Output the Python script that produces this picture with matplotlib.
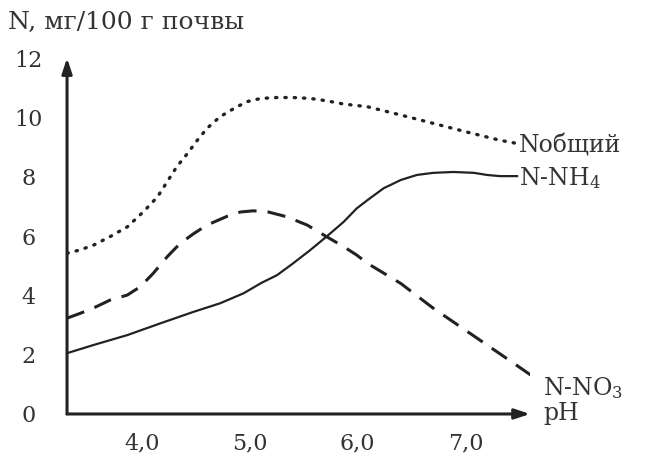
import matplotlib.pyplot as plt

# значения (pH -> N, мг/100 г почвы)
ph_total = [3.30, 3.42, 3.55, 3.70, 3.86, 4.01, 4.14, 4.23, 4.32, 4.42, 4.51, 4.60,
            4.72, 4.85, 4.97, 5.10, 5.25, 5.40, 5.56, 5.71, 5.87, 6.09, 6.40, 6.70,
            7.01, 7.32, 7.48]
n_total = [5.42, 5.53, 5.70, 5.98, 6.31, 6.82, 7.32, 7.83, 8.34, 8.79, 9.23, 9.63,
           10.02, 10.30, 10.53, 10.64, 10.67, 10.67, 10.64, 10.56, 10.45, 10.36, 10.08, 9.80,
           9.51, 9.23, 9.12]

ph_no3 = [3.30, 3.42, 3.55, 3.70, 3.86, 3.98, 4.10, 4.23, 4.35, 4.48, 4.60, 4.79,
          4.91, 5.03, 5.16, 5.34, 5.53, 5.71, 5.87, 5.99, 6.09, 6.40, 6.70, 7.01,
          7.32, 7.62]
n_no3 = [3.23, 3.39, 3.58, 3.84, 4.01, 4.29, 4.74, 5.30, 5.75, 6.09, 6.37, 6.67,
         6.81, 6.85, 6.82, 6.65, 6.37, 5.98, 5.64, 5.36, 5.08, 4.40, 3.57, 2.80,
         2.03, 1.28]

ph_nh4 = [3.30, 3.55, 3.86, 4.17, 4.48, 4.72, 4.94, 5.10, 5.25, 5.40, 5.56, 5.71,
          5.87, 5.99, 6.09, 6.24, 6.40, 6.55, 6.70, 6.89, 7.08, 7.20, 7.32, 7.48]
n_nh4 = [2.05, 2.33, 2.66, 3.06, 3.45, 3.73, 4.07, 4.41, 4.68, 5.08, 5.53, 5.98,
         6.48, 6.93, 7.21, 7.61, 7.89, 8.06, 8.13, 8.16, 8.13, 8.06, 8.02, 8.02]

x_ticks = [4.0, 5.0, 6.0, 7.0]
x_labels = ["4,0", "5,0", "6,0", "7,0"]
y_ticks = [0, 2, 4, 6, 8, 10, 12]

plt.rcParams["font.family"] = ["DejaVu Serif"]
plt.rcParams["mathtext.fontset"] = "dejavuserif"

ink = "#222222"
txt = "#333333"

fig = plt.figure(figsize=(6.47, 4.61), dpi=100)
ax = fig.add_axes([0.1036, 0.102, 0.7156, 0.772])
ax.set_xlim(3.3, 7.6)
ax.set_ylim(0, 12)

ax.plot(ph_total, n_total, color=ink, lw=2.4, linestyle=(0, (0.4, 2.4)),
        dash_capstyle="round", solid_capstyle="round")
ax.plot(ph_no3, n_no3, color=ink, lw=2.2, linestyle=(0, (6, 3.6)))
ax.plot(ph_nh4, n_nh4, color=ink, lw=1.6, solid_joinstyle="round")

for s in ax.spines.values():
    s.set_visible(False)

# оси со стрелками
ax.annotate("", xy=(1.0, 0), xytext=(0, 0), xycoords="axes fraction",
            arrowprops=dict(arrowstyle="-|>,head_length=0.9,head_width=0.3",
                            color=ink, lw=2.2, shrinkA=0, shrinkB=0))
ax.annotate("", xy=(0, 1.0), xytext=(0, 0), xycoords="axes fraction",
            arrowprops=dict(arrowstyle="-|>,head_length=0.9,head_width=0.3",
                            color=ink, lw=2.2, shrinkA=0, shrinkB=0))

ax.set_xticks(x_ticks, x_labels)
ax.set_yticks(y_ticks, [str(v) for v in y_ticks])
ax.tick_params(axis="both", length=0, labelsize=16, colors=txt)
ax.tick_params(axis="x", pad=13)
ax.tick_params(axis="y", pad=28)
for lab in ax.get_yticklabels():
    lab.set_horizontalalignment("center")

fig.text(0.012, 0.952, "N, мг/100 г почвы", fontsize=18, color=txt, va="center")

ax.text(7.5, 9.05, "Nобщий", fontsize=17, color=txt, va="center", ha="left")
ax.text(7.5, 7.95, "N-NH$_4$", fontsize=17, color=txt, va="center", ha="left")
ax.text(7.72, 0.88, "N-NO$_3$", fontsize=17, color=txt, va="center", ha="left",
        clip_on=False)
ax.text(7.72, 0.0, "pH", fontsize=17, color=txt, va="center", ha="left",
        clip_on=False)

fig.savefig("out.png", dpi=100)
